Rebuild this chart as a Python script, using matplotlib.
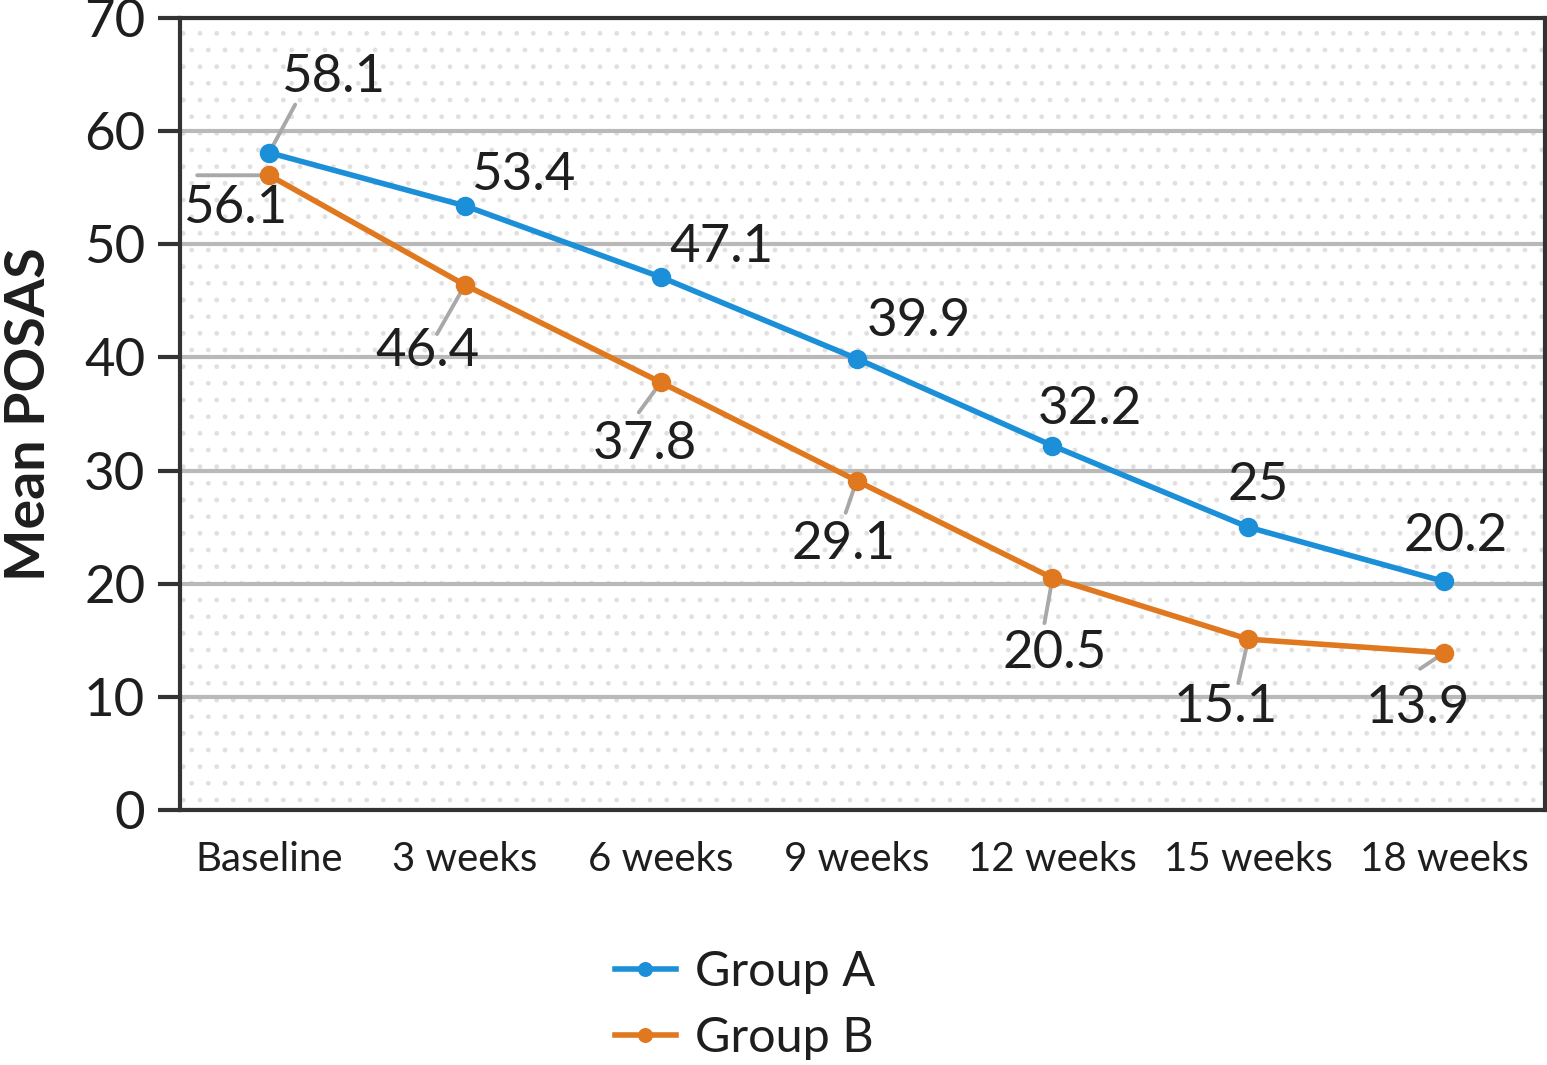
import matplotlib
matplotlib.use("Agg")
import matplotlib.pyplot as plt
from matplotlib.patches import Rectangle
import numpy as np

# ---- data ----
categories = ["Baseline", "3 weeks", "6 weeks", "9 weeks", "12 weeks", "15 weeks", "18 weeks"]
group_a = [58.1, 53.4, 47.1, 39.9, 32.2, 25, 20.2]
group_b = [56.1, 46.4, 37.8, 29.1, 20.5, 15.1, 13.9]
labels_a = ["58.1", "53.4", "47.1", "39.9", "32.2", "25", "20.2"]
labels_b = ["56.1", "46.4", "37.8", "29.1", "20.5", "15.1", "13.9"]
y_ticks = [0, 10, 20, 30, 40, 50, 60, 70]

# ---- layout (pixel offsets of labels / leader ends relative to points) ----
text_off_a = [(64, 75), (58, 30), (61, 30), (62, 37), (37, 36), (10, 42), (11, 45)]
lead_off_a = [(26, 48), None, None, None, None, None, None]
text_off_b = [(-34, -33), (-37, -66), (-16, -62), (-13, -64), (2, -75), (-23, -68), (-26, -56)]
lead_off_b = [(-72, 0), (-28, -49), (-22, -30), (-11, -32), (-8, -45), (-10, -44), (-24, -16)]

BLUE = "#1b8fd8"
ORANGE = "#e0781f"
GRAY = "#a8a8a8"
TXT = "#1e1e1e"
FONT = ["Lato", "DejaVu Sans"]

plt.rcParams["font.family"] = FONT
plt.rcParams["text.color"] = TXT

fig = plt.figure(figsize=(15.47, 10.65), dpi=100)
ax = fig.add_axes([0.1164, 0.2394, 0.8823, 0.7437])

x = np.arange(len(categories))
ax.set_xlim(-0.455, 6.515)
ax.set_ylim(0, 70)

# dotted background
ax.add_patch(Rectangle((0, 0), 1, 1, transform=ax.transAxes, fill=False,
                       edgecolor="#e0e0e0", lw=0, hatch=".", zorder=0))

ax.set_yticks(y_ticks)
ax.set_yticklabels([str(v) for v in y_ticks], fontsize=38, color=TXT)
ax.set_xticks(x)
ax.set_xticklabels(categories, fontsize=29, color=TXT)
ax.tick_params(axis="y", length=16, width=3, color="#333333", pad=9, direction="out")
ax.tick_params(axis="x", length=0, pad=22)
for sp in ax.spines.values():
    sp.set_linewidth(3)
    sp.set_color("#333333")

ax.grid(axis="y", color="#b9b9b9", lw=3, zorder=1)
ax.set_axisbelow(True)

ax.plot(x, group_a, color=BLUE, lw=4, marker="o", ms=13, label="Group A", zorder=4)
ax.plot(x, group_b, color=ORANGE, lw=4, marker="o", ms=13, label="Group B", zorder=4)

for xs, ys, labs, toff, loff in [(x, group_a, labels_a, text_off_a, lead_off_a),
                                  (x, group_b, labels_b, text_off_b, lead_off_b)]:
    for xi, yi, lab, to, lo in zip(xs, ys, labs, toff, loff):
        if lo is not None:
            ax.annotate("", xy=(xi, yi), xytext=lo, textcoords="offset pixels",
                        arrowprops=dict(arrowstyle="-", color=GRAY, lw=2.8,
                                        shrinkA=0, shrinkB=5), zorder=3)
        ax.annotate(lab, xy=(xi, yi), xytext=to, textcoords="offset pixels",
                    ha="center", va="center", fontsize=38,
                    color=TXT, zorder=5)

ax.set_ylabel("Mean POSAS", fontsize=40, fontweight="bold", color=TXT)
ax.yaxis.set_label_coords(-0.092, 0.5)

leg = fig.legend(loc="center", bbox_to_anchor=(745 / 1547, 1 - 1005 / 1065),
                 frameon=False, handlelength=1.25, handletextpad=0.4,
                 labelspacing=0.45, markerscale=0.75,
                 prop={"family": FONT, "size": 35})

fig.savefig("out.png", dpi=100)
